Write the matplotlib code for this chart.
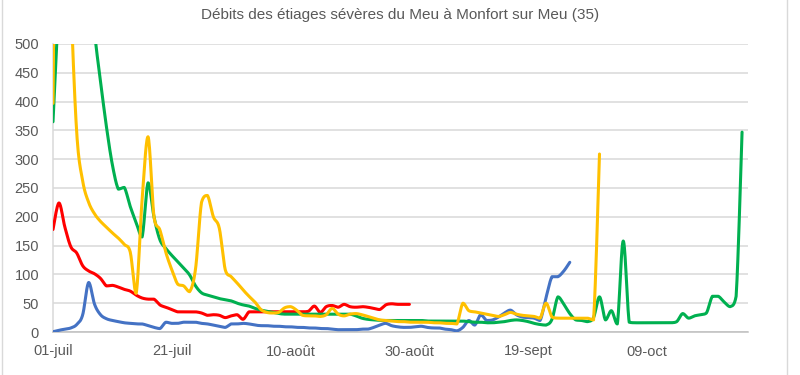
import numpy as np
import matplotlib
matplotlib.use("Agg")
import matplotlib.pyplot as plt
from matplotlib.patches import Rectangle

title = "Débits des étiages sévères du Meu à Monfort sur Meu (35)"
tick_days = [0, 20, 40, 60, 80, 100]
tick_labels = ["01-juil", "21-juil", "10-août", "30-août", "19-sept", "09-oct"]
y_ticks = [0, 50, 100, 150, 200, 250, 300, 350, 400, 450, 500]

# daily discharge values, day 0 = 01-juil
red = [178, 224, 182, 148, 137, 115, 106, 101, 93, 80, 81, 78, 74, 71, 64, 59,
       57, 57, 47, 43, 39, 35, 35, 35, 35, 33, 29, 30, 29, 25, 28, 30, 22, 35,
       35, 35, 35, 35, 35, 35, 35, 35, 35, 36, 45, 34, 44, 46, 43, 48, 44, 43,
       44, 43, 41, 39, 47, 49, 48, 48, 48]
blue = [0.5, 3, 5, 7, 13, 30, 86, 48, 30, 23, 20, 18, 16, 15, 14, 14, 11, 8, 6,
        17, 15, 15, 17, 17, 17, 15, 14, 12, 10, 8, 14, 14, 15, 14, 12, 11, 11,
        10, 10, 9, 9, 8, 8, 7, 7, 6, 6, 5, 4, 4, 4, 4, 5, 5, 8, 12, 15, 11, 9,
        8, 8, 9, 10, 8, 7, 7, 5, 4, 2, 8, 20, 12, 30, 20, 21, 26, 33, 38, 30,
        26, 25, 24, 20, 60, 96, 96, 106, 121]
green = [365, 580, 800, 900, 850, 750, 640, 520, 435, 356, 290, 248, 251, 218,
         190, 165, 259, 200, 160, 145, 133, 122, 111, 99, 80, 68, 64, 61, 58,
         56, 54, 50, 47, 45, 41, 38, 36, 34, 32, 31, 31, 31, 31, 31, 31, 31, 31,
         31, 31, 31, 31, 28, 24, 22, 21, 20, 20, 20, 20, 20, 20, 20, 20, 19, 19,
         19, 19, 19, 19, 19, 18, 17, 17, 16, 16, 17, 18, 20, 21, 20, 18, 15, 13,
         12, 22, 61, 48, 32, 21, 20, 18, 25, 61, 21, 37, 14, 158, 17, 16, 16,
         16, 16, 16, 16, 16, 18, 32, 24, 28, 30, 33, 62, 62, 52, 44, 62, 347]
yellow = [397, 1400, 900, 580, 345, 262, 225, 205, 192, 182, 172, 163, 152, 139,
          67, 230, 339, 200, 177, 138, 108, 83, 80, 70, 110, 225, 237, 200, 180,
          108, 96, 85, 73, 62, 52, 39, 34, 33, 34, 42, 44, 38, 29, 28, 28, 27,
          30, 41, 31, 28, 31, 32, 30, 27, 24, 21, 20, 19, 18, 18, 17, 17, 17, 17,
          16, 16, 15, 15, 14, 50, 37, 35, 33, 31, 29, 27, 30, 34, 31, 29, 28, 27,
          24, 50, 26, 24, 24, 24, 24, 24, 24, 21, 309]

series = [(red, "#FF0000"), (blue, "#4472C4"), (green, "#00B050"), (yellow, "#FFC000")]


def smooth(vals, n=16):
    p = np.column_stack([np.arange(len(vals), dtype=float), np.asarray(vals, float)])
    xs, ys = [], []
    for i in range(len(p) - 1):
        p0 = p[i - 1] if i > 0 else p[i]
        p1 = p[i]
        p2 = p[i + 1]
        p3 = p[i + 2] if i + 2 < len(p) else p[i + 1]
        c1 = p1 + (p2 - p0) / 6.0
        c2 = p2 - (p3 - p1) / 6.0
        lo, hi = min(p1[1], p2[1]), max(p1[1], p2[1])
        c1[1] = np.clip(c1[1], lo, hi)
        c2[1] = np.clip(c2[1], lo, hi)
        t = np.linspace(0, 1, n, endpoint=(i == len(p) - 2))[:, None]
        b = ((1 - t) ** 3) * p1 + 3 * ((1 - t) ** 2) * t * c1 + 3 * (1 - t) * t ** 2 * c2 + t ** 3 * p2
        xs.append(b[:, 0])
        ys.append(b[:, 1])
    return np.concatenate(xs), np.concatenate(ys)


plt.rcParams['font.family'] = ['Liberation Sans', 'DejaVu Sans']
fig = plt.figure(figsize=(8, 3.75), dpi=100)
ax = fig.add_axes([53 / 800, 1 - 332 / 375, (748 - 53) / 800, (332 - 44) / 375])

for vals, col in series:
    x, y = smooth(vals)
    ax.plot(x, y, color=col, lw=2.2, solid_capstyle='round', solid_joinstyle='round', zorder=3)

ax.set_xlim(0, 117)
ax.set_ylim(0, 500)
ax.set_yticks(y_ticks)
ax.set_xticks(tick_days)
ax.set_xticklabels(tick_labels)
ax.yaxis.grid(True, color="#D9D9D9", lw=1.1, zorder=0)
ax.set_axisbelow(True)
for s in ["top", "right"]:
    ax.spines[s].set_visible(False)
ax.spines["left"].set_color("#D9D9D9")
ax.spines["bottom"].set_color("#BFBFBF")
ax.spines["left"].set_linewidth(1.1)
ax.spines["bottom"].set_linewidth(1.1)
ax.tick_params(axis='both', length=0, labelsize=10.5, labelcolor="#595959")
ax.tick_params(axis='y', pad=10)
ax.tick_params(axis='x', pad=9)

fig.text(400 / 800, 1 - 15 / 375, title, ha='center', va='center', fontsize=11, color="#595959")
fig.patches.append(Rectangle((2 / 800, -0.1), 785 / 800, 1.2, transform=fig.transFigure,
                             fill=False, edgecolor="#D9D9D9", lw=1))

fig.savefig("out.png", dpi=100)
